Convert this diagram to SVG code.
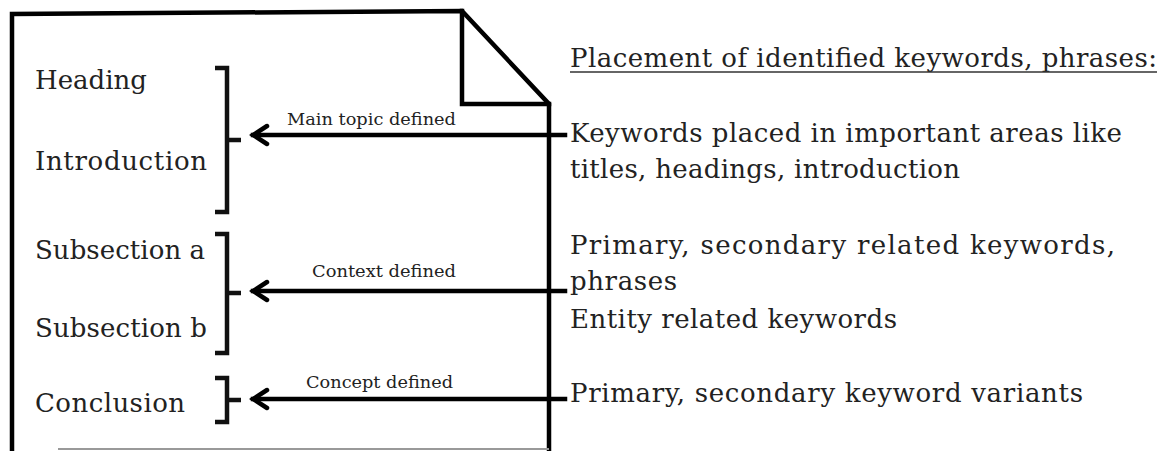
<svg xmlns="http://www.w3.org/2000/svg" width="1164" height="451" viewBox="0 0 1164 451">
<style>
.ln{fill:none;stroke:#000;stroke-width:4.5;stroke-linecap:square;stroke-linejoin:miter}
.br{fill:none;stroke:#111;stroke-width:4.5;stroke-linejoin:miter}
.t{font-family:"DejaVu Serif","Liberation Serif",serif;font-size:26px;fill:#222}
.s{font-family:"DejaVu Serif","Liberation Serif",serif;font-size:17px;fill:#222}
</style>
<defs>
<marker id="ah" markerWidth="22" markerHeight="24" refX="18" refY="12" orient="auto" markerUnits="userSpaceOnUse">
<path d="M4,3 L18,12 L4,21" fill="none" stroke="#000" stroke-width="4.5" stroke-linecap="round" stroke-linejoin="miter"/>
</marker>
</defs>
<rect width="1164" height="451" fill="#fff"/>
<g id="page">
<path class="ln" d="M12,451 V14 L462,11 L549,104 V451"/>
<path class="ln" d="M462,11 V104 H549"/>
<line x1="58" y1="449" x2="549" y2="449" stroke="#999" stroke-width="2"/>
</g>
<g id="heading"><text class="t" x="35" y="89" textLength="112" lengthAdjust="spacing">Heading</text></g>
<g id="introduction"><text class="t" x="35" y="170" textLength="172" lengthAdjust="spacing">Introduction</text></g>
<g id="subsection-a"><text class="t" x="35" y="259" textLength="170" lengthAdjust="spacing">Subsection a</text></g>
<g id="subsection-b"><text class="t" x="35" y="337" textLength="172" lengthAdjust="spacing">Subsection b</text></g>
<g id="conclusion"><text class="t" x="35" y="412" textLength="150" lengthAdjust="spacing">Conclusion</text></g>
<g id="brackets">
<path class="br" d="M215,68 H227 V212 H215 M227,140 H241"/>
<path class="br" d="M215,234 H227 V353 H215 M227,293 H241"/>
<path class="br" d="M215,378 H227 V422 H215 M227,400 H241"/>
</g>
<g id="connectors">
<line class="ln" x1="565" y1="135" x2="253" y2="135" marker-end="url(#ah)"/>
<line class="ln" x1="565" y1="291" x2="253" y2="291" marker-end="url(#ah)"/>
<line class="ln" x1="565" y1="399" x2="253" y2="399" marker-end="url(#ah)"/>
<text class="s" x="287" y="125" textLength="169" lengthAdjust="spacingAndGlyphs">Main topic defined</text>
<text class="s" x="312" y="277" textLength="144" lengthAdjust="spacingAndGlyphs">Context defined</text>
<text class="s" x="306" y="388" textLength="147" lengthAdjust="spacingAndGlyphs">Concept defined</text>
</g>
<g id="legend-title">
<text class="t" x="570" y="67" textLength="587" lengthAdjust="spacing">Placement of identified keywords, phrases:</text>
<line x1="570" y1="72" x2="1157" y2="72" stroke="#333" stroke-width="1.5"/>
</g>
<g id="desc-main">
<text class="t" x="570" y="142" textLength="552" lengthAdjust="spacing">Keywords placed in important areas like</text>
<text class="t" x="570" y="178" textLength="390" lengthAdjust="spacing">titles, headings, introduction</text>
</g>
<g id="desc-context">
<text class="t" x="570" y="254" textLength="545" lengthAdjust="spacing">Primary, secondary related keywords,</text>
<text class="t" x="570" y="290" textLength="107" lengthAdjust="spacing">phrases</text>
<text class="t" x="570" y="328" textLength="327" lengthAdjust="spacing">Entity related keywords</text>
</g>
<g id="desc-concept">
<text class="t" x="570" y="402" textLength="513" lengthAdjust="spacing">Primary, secondary keyword variants</text>
</g>
</svg>
